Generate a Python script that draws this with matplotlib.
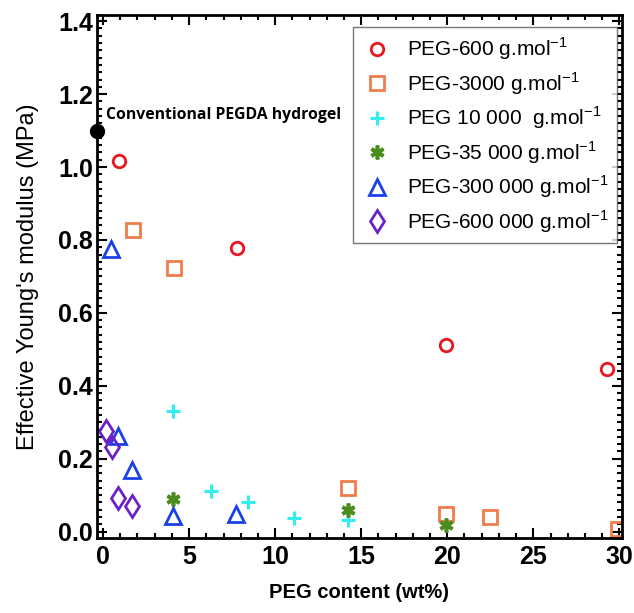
import numpy as np
import matplotlib
matplotlib.use("Agg")
import matplotlib.pyplot as plt
from matplotlib.ticker import MultipleLocator

# data: PEG content (wt%) vs effective Young's modulus (MPa)
x_600 = [0.93, 7.76, 19.93, 29.26]
y_600 = [1.017, 0.777, 0.513, 0.447]

x_3000 = [1.74, 4.11, 14.25, 19.93, 22.5, 29.9]
y_3000 = [0.826, 0.722, 0.121, 0.048, 0.040, 0.008]

x_10k = [4.06, 6.3, 8.4, 11.1, 14.25]
y_10k = [0.332, 0.111, 0.080, 0.038, 0.033]

x_35k = [4.06, 14.25, 19.9]
y_35k = [0.090, 0.060, 0.018]

x_300k = [0.46, 0.89, 1.70, 4.07, 7.75]
y_300k = [0.774, 0.261, 0.169, 0.044, 0.048]

x_600k = [0.15, 0.50, 0.89, 1.70]
y_600k = [0.277, 0.231, 0.092, 0.069]

pegda_x = -0.35
pegda_y = 1.10

labels = ["PEG-600 g.mol$^{\\mathregular{-1}}$",
          "PEG-3000 g.mol$^{\\mathregular{-1}}$",
          "PEG 10 000  g.mol$^{\\mathregular{-1}}$",
          "PEG-35 000 g.mol$^{\\mathregular{-1}}$",
          "PEG-300 000 g.mol$^{\\mathregular{-1}}$",
          "PEG-600 000 g.mol$^{\\mathregular{-1}}$"]

plt.rcParams['font.family'] = ['Liberation Sans', 'DejaVu Sans']
plt.rcParams['mathtext.fontset'] = 'custom'
plt.rcParams['mathtext.rm'] = 'Liberation Sans'

fig = plt.figure(figsize=(6.34, 6.13), dpi=100)
ax = fig.add_axes([0.153, 0.122, 0.828, 0.853])

ax.plot(x_600, y_600, 'o', ls='none', mfc='none', mec='#e8161e', mew=2, ms=9, label=labels[0])
ax.plot(x_3000, y_3000, 's', ls='none', mfc='none', mec='#f07c4c', mew=2, ms=9.5, label=labels[1])
ax.plot(x_10k, y_10k, '+', ls='none', color='#33eef0', mew=2.2, ms=10, label=labels[2])
ax.plot(x_35k, y_35k, marker=(6, 2, 0), ls='none', color='#4a8c1e', mew=2.6, ms=10, label=labels[3])
ax.plot(x_300k, y_300k, '^', ls='none', mfc='none', mec='#1a40e8', mew=2, ms=11.5, label=labels[4])
ax.plot(x_600k, y_600k, 'd', ls='none', mfc='none', mec='#6a22c8', mew=2, ms=11.5, label=labels[5])

ax.plot([pegda_x], [pegda_y], 'o', color='black', ms=10, clip_on=False, zorder=5)
ax.text(pegda_x + 0.5, pegda_y + 0.043, "Conventional PEGDA hydrogel", family=['Open Sans', 'DejaVu Sans'],
        fontweight='bold', fontsize=11.3, va='center', ha='left')

ax.set_xlim(-0.35, 30.15)
ax.set_ylim(-0.018, 1.416)
ax.xaxis.set_major_locator(MultipleLocator(5))
ax.xaxis.set_minor_locator(MultipleLocator(1))
ax.yaxis.set_major_locator(MultipleLocator(0.2))
ax.yaxis.set_minor_locator(MultipleLocator(0.02))
ax.yaxis.set_major_formatter(matplotlib.ticker.FormatStrFormatter('%.1f'))

ax.tick_params(which='both', direction='in', top=True, right=True, width=1.5)
ax.tick_params(which='major', length=7, labelsize=18)
ax.tick_params(axis='y', which='major', pad=3)
ax.tick_params(axis='x', which='major', pad=5)
ax.tick_params(which='minor', length=3.5)
for lab in ax.get_xticklabels() + ax.get_yticklabels():
    lab.set_fontweight('bold')
for sp in ax.spines.values():
    sp.set_linewidth(2)

ax.set_xlabel("PEG content (wt%)", fontsize=14.5, fontweight='bold', labelpad=10)
ax.set_ylabel("Effective Young's modulus (MPa)", fontsize=17, labelpad=14)

leg = ax.legend(loc='upper right', bbox_to_anchor=(0.990, 0.977), borderaxespad=0, fontsize=15,
                frameon=True, fancybox=False, edgecolor='#555555', handletextpad=0.7,
                labelspacing=0.38, borderpad=0.4, handlelength=1.5)
leg.get_frame().set_linewidth(1.0)

fig.savefig("out.png", dpi=100)
